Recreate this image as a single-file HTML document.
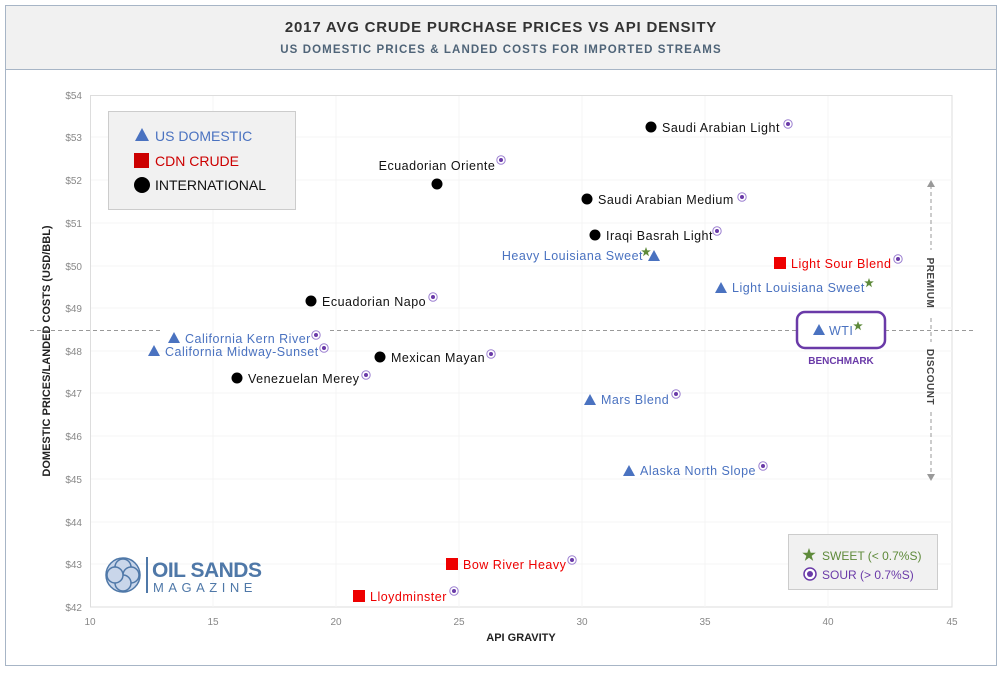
<!DOCTYPE html>
<html><head><meta charset="utf-8"><style>
body{margin:0;background:#fff;width:1002px;height:672px;overflow:hidden;font-family:"Liberation Sans",sans-serif}
</style></head><body>
<svg width="1002" height="672" viewBox="0 0 1002 672" xmlns="http://www.w3.org/2000/svg" font-family="Liberation Sans, sans-serif">
<defs>
<g id="sour"><circle r="4.2" fill="#fff" stroke="#9b7fd0" stroke-width="1"/><circle r="2" fill="#6a3aa8"/></g>
<polygon id="star" points="0,-5 1.2,-1.6 4.8,-1.6 1.9,0.6 3,4.2 0,2 -3,4.2 -1.9,0.6 -4.8,-1.6 -1.2,-1.6" fill="#5e8a3a"/>
<polygon id="tri" points="0,-6 6,5 -6,5" fill="#4a72c0"/>
</defs>
<rect x="5.5" y="5.5" width="991" height="660" fill="#fff" stroke="#a7b5c6"/>
<rect x="6" y="6" width="990" height="63" fill="#f1f1f1"/>
<line x1="6" y1="69.5" x2="996" y2="69.5" stroke="#a7b5c6"/>
<text x="501" y="32" text-anchor="middle" font-size="15" font-weight="bold" fill="#333" letter-spacing="0.8">2017 AVG CRUDE PURCHASE PRICES VS API DENSITY</text>
<text x="501" y="53" text-anchor="middle" font-size="11.5" font-weight="bold" fill="#4f6478" letter-spacing="1.1">US DOMESTIC PRICES &amp; LANDED COSTS FOR IMPORTED STREAMS</text>
<rect x="90.5" y="95.5" width="861.5" height="511.5" fill="#fff" stroke="#ddd"/>
<g stroke="#f4f4f4">
<line x1="213" y1="96" x2="213" y2="607"/><line x1="336" y1="96" x2="336" y2="607"/><line x1="459" y1="96" x2="459" y2="607"/><line x1="582" y1="96" x2="582" y2="607"/><line x1="705" y1="96" x2="705" y2="607"/><line x1="828" y1="96" x2="828" y2="607"/>
<line x1="91" y1="137" x2="952" y2="137"/><line x1="91" y1="180" x2="952" y2="180"/><line x1="91" y1="223" x2="952" y2="223"/><line x1="91" y1="266" x2="952" y2="266"/><line x1="91" y1="308" x2="952" y2="308"/><line x1="91" y1="351" x2="952" y2="351"/><line x1="91" y1="393" x2="952" y2="393"/><line x1="91" y1="436" x2="952" y2="436"/><line x1="91" y1="479" x2="952" y2="479"/><line x1="91" y1="522" x2="952" y2="522"/><line x1="91" y1="564" x2="952" y2="564"/>
</g>
<g font-size="10" fill="#888" text-anchor="end">
<text x="82" y="99">$54</text><text x="82" y="141">$53</text><text x="82" y="184">$52</text><text x="82" y="227">$51</text><text x="82" y="270">$50</text><text x="82" y="312">$49</text><text x="82" y="355">$48</text><text x="82" y="397">$47</text><text x="82" y="440">$46</text><text x="82" y="483">$45</text><text x="82" y="526">$44</text><text x="82" y="568">$43</text><text x="82" y="611">$42</text>
</g>
<g font-size="10" fill="#888" text-anchor="middle">
<text x="90" y="625">10</text><text x="213" y="625">15</text><text x="336" y="625">20</text><text x="459" y="625">25</text><text x="582" y="625">30</text><text x="705" y="625">35</text><text x="828" y="625">40</text><text x="952" y="625">45</text>
</g>
<text x="521" y="641" text-anchor="middle" font-size="11" font-weight="bold" fill="#222">API GRAVITY</text>
<text transform="translate(50,351) rotate(-90)" text-anchor="middle" font-size="11" font-weight="bold" fill="#222">DOMESTIC PRICES/LANDED COSTS (USD/BBL)</text>
<g stroke="#999" stroke-dasharray="4,3">
<line x1="30" y1="330.5" x2="160" y2="330.5"/><line x1="330" y1="330.5" x2="797" y2="330.5"/><line x1="885" y1="330.5" x2="975" y2="330.5"/>
<line x1="931" y1="185" x2="931" y2="250"/><line x1="931" y1="318" x2="931" y2="342"/><line x1="931" y1="412" x2="931" y2="475"/>
</g>
<polygon points="927,187 935,187 931,180" fill="#999"/><polygon points="927,474 935,474 931,481" fill="#999"/>
<text transform="translate(927,283) rotate(90)" text-anchor="middle" font-size="10" font-weight="bold" fill="#444" letter-spacing="0.5">PREMIUM</text>
<text transform="translate(927,377) rotate(90)" text-anchor="middle" font-size="10" font-weight="bold" fill="#444" letter-spacing="0.5">DISCOUNT</text>
<rect x="108.5" y="111.5" width="187" height="98" fill="#f1f1f1" stroke="#ccc"/>
<polygon points="142,128 149,141 135,141" fill="#4a72c0"/><text x="155" y="141" font-size="14" fill="#4a72c0">US DOMESTIC</text>
<rect x="134" y="153" width="15" height="15" fill="#c00"/><text x="155" y="166" font-size="14" fill="#c00">CDN CRUDE</text>
<circle cx="142" cy="185" r="8" fill="#000"/><text x="155" y="190" font-size="14" fill="#111">INTERNATIONAL</text>
<rect x="788.5" y="534.5" width="149" height="55" fill="#f1f1f1" stroke="#ccc"/>
<use href="#star" transform="translate(809,555) scale(1.4)"/>
<text x="822" y="560" font-size="12" fill="#5e8a3a">SWEET (&lt; 0.7%S)</text>
<circle cx="810" cy="574" r="6" fill="#fff" stroke="#6a3aa8" stroke-width="1.5"/><circle cx="810" cy="574" r="3" fill="#6a3aa8"/>
<text x="822" y="579" font-size="12" fill="#6a3aa8">SOUR (&gt; 0.7%S)</text>
<g transform="translate(123,575)" fill="#c9d6ea" stroke="#4f78a8" stroke-width="1.5">
<circle r="17"/><circle cx="0" cy="-8" r="8"/><circle cx="8" cy="0" r="8"/><circle cx="0" cy="8" r="8"/><circle cx="-8" cy="0" r="8"/>
</g>
<line x1="147" y1="557" x2="147" y2="593" stroke="#4f78a8" stroke-width="2"/>
<text x="152" y="577" font-size="21" font-weight="bold" fill="#4f78a8" letter-spacing="-0.5">OIL SANDS</text>
<text x="153" y="592" font-size="13" fill="#4f78a8" letter-spacing="4.5">MAGAZINE</text>
<rect x="797" y="312" width="88" height="36" rx="8" fill="#fff" stroke="#6a3aa8" stroke-width="2.5"/>
<text x="841" y="364" text-anchor="middle" font-size="10" font-weight="bold" fill="#6a3aa8">BENCHMARK</text>
<g font-size="12.5" letter-spacing="0.5">
<circle cx="651" cy="127" r="5.5"/><text x="662" y="132" fill="#111">Saudi Arabian Light</text><use href="#sour" x="788" y="124"/>
<circle cx="437" cy="184" r="5.5"/><text x="437" y="170" fill="#111" text-anchor="middle">Ecuadorian Oriente</text><use href="#sour" x="501" y="160"/>
<circle cx="587" cy="199" r="5.5"/><text x="598" y="204" fill="#111">Saudi Arabian Medium</text><use href="#sour" x="742" y="197"/>
<circle cx="595" cy="235" r="5.5"/><text x="606" y="240" fill="#111">Iraqi Basrah Light</text><use href="#sour" x="717" y="231"/>
<use href="#tri" x="654" y="256"/><text x="643" y="260" fill="#4a72c0" text-anchor="end">Heavy Louisiana Sweet</text><use href="#star" x="646" y="252"/>
<rect x="774" y="257" width="12" height="12" fill="#e00"/><text x="791" y="268" fill="#e00">Light Sour Blend</text><use href="#sour" x="898" y="259"/>
<use href="#tri" x="721" y="288"/><text x="732" y="292" fill="#4a72c0">Light Louisiana Sweet</text><use href="#star" x="869" y="283"/>
<circle cx="311" cy="301" r="5.5"/><text x="322" y="306" fill="#111">Ecuadorian Napo</text><use href="#sour" x="433" y="297"/>
<use href="#tri" x="819" y="330"/><text x="829" y="335" fill="#4a72c0">WTI</text><use href="#star" x="858" y="326"/>
<use href="#tri" x="174" y="338"/><text x="185" y="343" fill="#4a72c0">California Kern River</text><use href="#sour" x="316" y="335"/>
<use href="#tri" x="154" y="351"/><text x="165" y="356" fill="#4a72c0">California Midway-Sunset</text><use href="#sour" x="324" y="348"/>
<circle cx="380" cy="357" r="5.5"/><text x="391" y="362" fill="#111">Mexican Mayan</text><use href="#sour" x="491" y="354"/>
<circle cx="237" cy="378" r="5.5"/><text x="248" y="383" fill="#111">Venezuelan Merey</text><use href="#sour" x="366" y="375"/>
<use href="#tri" x="590" y="400"/><text x="601" y="404" fill="#4a72c0">Mars Blend</text><use href="#sour" x="676" y="394"/>
<use href="#tri" x="629" y="471"/><text x="640" y="475" fill="#4a72c0">Alaska North Slope</text><use href="#sour" x="763" y="466"/>
<rect x="446" y="558" width="12" height="12" fill="#e00"/><text x="463" y="569" fill="#e00">Bow River Heavy</text><use href="#sour" x="572" y="560"/>
<rect x="353" y="590" width="12" height="12" fill="#e00"/><text x="370" y="601" fill="#e00">Lloydminster</text><use href="#sour" x="454" y="591"/>
</g>
</svg>
</body></html>
